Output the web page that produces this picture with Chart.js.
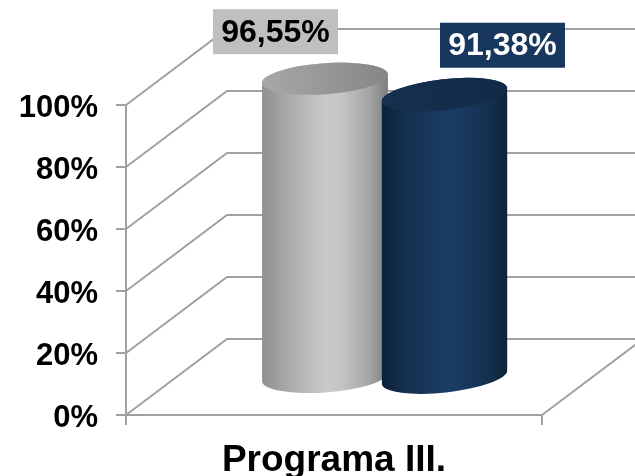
<!DOCTYPE html>
<html>
<head>
<meta charset="utf-8">
<style>
html,body{margin:0;padding:0;background:#fff;overflow:hidden}
#wrap{position:relative;width:635px;height:476px}
canvas{display:block}
</style>
<script src="https://cdn.jsdelivr.net/npm/chart.js@4/dist/chart.umd.min.js"></script>
</head>
<body>
<div id="wrap"><canvas id="c" width="635" height="476"></canvas></div>
<script>
const categories = ["Programa III."];
const seriesA = [96.55];
const seriesB = [91.38];
const yTicks = [0, 20, 40, 60, 80, 100];

const FONT = '"Liberation Sans", Arial, sans-serif';
const LINE = '#a0a0a0';
// 3D projection of the wall / floor
const wallDX = 101, wallDY = -76;
const barDY = -37;
const styles = [
  {shift:-9, tilt:0.07, rx:63, ry:15.5, stops:['#8f8f8f','#a9a9a9','#c9c9c9','#c6c6c6','#a5a5a5','#7d7d7d'],
   capA:'#a8a8a8', capB:'#868686', box:'#bfbfbf', text:'#000000', lx:-49.5, ly:-47},
  {shift:110.5, tilt:0.11, rx:63, ry:15.5, stops:['#0c2038','#14304f','#1b3c66','#1a3a63','#14304f','#0f2136'],
   capA:'#17304f', capB:'#122a47', box:'#17375e', text:'#ffffff', lx:58, ly:-49.5}
];

const fmt = v => v.toFixed(2).replace('.', ',') + '%';

function geom(chart, i) {
  const el = chart.getDatasetMeta(i).data[0];
  const s = styles[i];
  return {cx: el.x + s.shift, top: el.y + barDY, base: el.base + barDY, s};
}
function silhouette(ctx, g) {
  const {cx, top, base, s} = g;
  ctx.beginPath();
  ctx.ellipse(cx, top, s.rx, s.ry, -s.tilt, Math.PI, Math.PI * 2);
  ctx.ellipse(cx, base, s.rx, s.ry, -s.tilt, 0, Math.PI);
  ctx.closePath();
}

const depthPlugin = {
  id: 'depth',
  beforeDatasetsDraw(chart) {
    const {ctx, scales:{x, y}, chartArea:a} = chart;
    ctx.save();
    ctx.strokeStyle = LINE;
    ctx.lineWidth = 2;
    yTicks.forEach(t => {
      const py = y.getPixelForValue(t);
      ctx.beginPath();
      ctx.moveTo(a.left, py);
      ctx.lineTo(a.left + wallDX, py + wallDY);
      ctx.lineTo(chart.width, py + wallDY);
      ctx.stroke();
    });
    const py0 = y.getPixelForValue(0);
    ctx.beginPath();
    ctx.moveTo(a.right, py0);
    ctx.lineTo(a.right + wallDX, py0 + wallDY);
    ctx.stroke();
    ctx.restore();
  },
  beforeDatasetDraw(chart, args) {
    const {ctx} = chart;
    const g = geom(chart, args.index);
    ctx.save();
    silhouette(ctx, g);
    ctx.clip();
    ctx.translate(g.s.shift, barDY);
  },
  afterDatasetDraw(chart, args) {
    const {ctx} = chart;
    ctx.restore();
    const g = geom(chart, args.index);
    const {cx, top, s} = g;
    ctx.save();
    const grad = ctx.createLinearGradient(cx - s.rx, 0, cx + s.rx, 0);
    s.stops.forEach((c, k) => grad.addColorStop([0, .2, .5, .62, .85, 1][k], c));
    silhouette(ctx, g);
    ctx.fillStyle = grad;
    ctx.fill();
    const cap = ctx.createLinearGradient(cx - s.rx, 0, cx + s.rx, 0);
    cap.addColorStop(0, s.capA);
    cap.addColorStop(1, s.capB);
    ctx.beginPath();
    ctx.ellipse(cx, top, s.rx, s.ry, -s.tilt, 0, Math.PI * 2);
    ctx.fillStyle = cap;
    ctx.fill();
    ctx.restore();
  },
  afterDatasetsDraw(chart) {
    const {ctx} = chart;
    [seriesA, seriesB].forEach((vals, i) => {
      const g = geom(chart, i), s = g.s;
      const bx = g.cx + s.lx, by = g.top + s.ly;
      ctx.save();
      ctx.fillStyle = s.box;
      ctx.fillRect(bx - 62.5, by - 22.5, 125, 45);
      ctx.fillStyle = s.text;
      ctx.font = 'bold 32px ' + FONT;
      ctx.textAlign = 'center';
      ctx.textBaseline = 'middle';
      ctx.fillText(fmt(vals[0]), bx, by + 1);
      ctx.restore();
    });
  }
};

new Chart(document.getElementById('c'), {
  type: 'bar',
  data: {
    labels: categories,
    datasets: [
      {label:'A', data: seriesA, backgroundColor:'#bdbdbd', order:2, grouped:false, barThickness:126},
      {label:'B', data: seriesB, backgroundColor:'#17375e', order:1, grouped:false, barThickness:126}
    ]
  },
  plugins: [depthPlugin],
  options: {
    responsive: false,
    animation: false,
    events: [],
    layout: {padding: {left:0, right:93, top:105, bottom:0}},
    clip: false,
    plugins: {legend:{display:false}, tooltip:{enabled:false}, title:{display:false}},
    scales: {
      x: {
        grid: {display:true, drawOnChartArea:false, drawTicks:true, tickLength:10, color:LINE, lineWidth:2},
        border: {display:true, color:LINE, width:2},
        ticks: {color:'#000', padding:14, maxRotation:0, font:{family:FONT, size:37, weight:'bold'}},
        afterFit(s){ s.height = 61; }
      },
      y: {
        min: 0, max: 100,
        afterBuildTicks(s){ s.ticks = yTicks.map(v => ({value:v})); },
        grid: {display:true, drawOnChartArea:false, drawTicks:true, tickLength:10, color:LINE, lineWidth:2},
        border: {display:true, color:LINE, width:2},
        ticks: {color:'#000', padding:18, labelOffset:3, callback:v => v + '%', font:{family:FONT, size:31, weight:'bold'}},
        afterFit(s){ s.width = 126; }
      }
    }
  }
});
</script>
</body>
</html>
